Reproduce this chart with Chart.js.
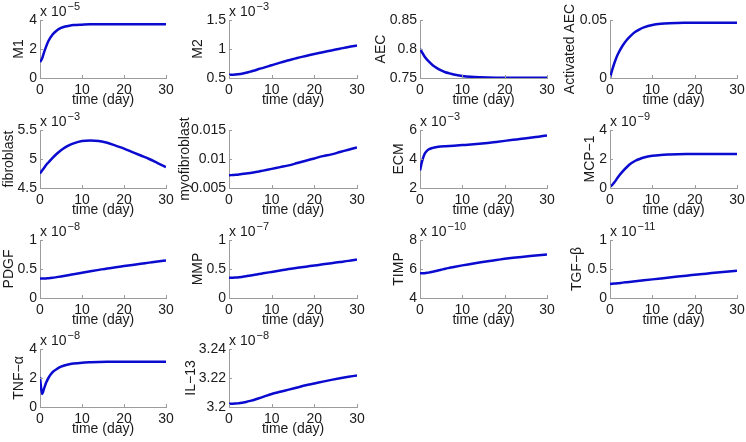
<!DOCTYPE html>
<html>
<head>
<meta charset="utf-8">
<script src="https://cdn.jsdelivr.net/npm/chart.js@4.4.0/dist/chart.umd.min.js"></script>
<style>
  html, body { margin: 0; padding: 0; background: #fff; overflow: hidden; }
  #fig { position: relative; width: 746px; height: 442px; }
  #fig canvas { position: absolute; }
</style>
</head>
<body>
<div id="fig"></div>
<script>
// time points (day) shared by every panel
const days = [0, 0.5, 1, 1.5, 2, 3, 4, 5, 6, 7, 8, 10, 12, 14, 16, 18, 20, 22, 24, 26, 28, 30];
const timeTicks = [0, 10, 20, 30];

// values, in the units shown on each panel (after the "x 10^n" factor)
const m1 = [1.1, 1.35, 1.8, 2.2, 2.55, 3.0, 3.28, 3.45, 3.55, 3.61, 3.65, 3.68, 3.7, 3.7, 3.7, 3.7, 3.7, 3.7, 3.7, 3.7, 3.7, 3.7];
const m2 = [0.555, 0.556, 0.558, 0.561, 0.565, 0.575, 0.59, 0.61, 0.63, 0.655, 0.675, 0.72, 0.765, 0.805, 0.845, 0.88, 0.915, 0.945, 0.975, 1.005, 1.035, 1.06];
const aec = [0.8, 0.794, 0.788, 0.783, 0.779, 0.772, 0.767, 0.763, 0.76, 0.758, 0.756, 0.7535, 0.752, 0.7512, 0.7508, 0.7506, 0.7505, 0.7505, 0.7505, 0.7505, 0.7505, 0.7505];
const activatedAec = [0, 0.0067, 0.0125, 0.0175, 0.0215, 0.028, 0.033, 0.0368, 0.0398, 0.042, 0.0436, 0.0457, 0.0468, 0.0473, 0.0475, 0.0476, 0.0477, 0.0477, 0.0477, 0.0477, 0.0477, 0.0477];
const fibroblast = [4.75, 4.8, 4.85, 4.9, 4.94, 5.02, 5.09, 5.15, 5.2, 5.24, 5.27, 5.31, 5.32, 5.31, 5.28, 5.23, 5.18, 5.12, 5.06, 5.0, 4.93, 4.86];
const myofibroblast = [0.0072, 0.00722, 0.00725, 0.00728, 0.0073, 0.0074, 0.0075, 0.0076, 0.0077, 0.00785, 0.008, 0.0083, 0.0086, 0.0089, 0.0093, 0.0097, 0.0101, 0.0105, 0.0108, 0.0112, 0.0116, 0.012];
const ecm = [3.2, 3.85, 4.3, 4.52, 4.65, 4.77, 4.83, 4.86, 4.88, 4.9, 4.92, 4.96, 5.0, 5.05, 5.11, 5.18, 5.25, 5.32, 5.39, 5.46, 5.54, 5.62];
const mcp1 = [0.1, 0.2, 0.38, 0.58, 0.8, 1.15, 1.45, 1.7, 1.88, 2.0, 2.1, 2.22, 2.28, 2.31, 2.33, 2.34, 2.34, 2.34, 2.34, 2.34, 2.34, 2.34];
const pdgf = [0.335, 0.335, 0.336, 0.338, 0.34, 0.348, 0.36, 0.372, 0.385, 0.398, 0.41, 0.435, 0.46, 0.485, 0.51, 0.53, 0.55, 0.57, 0.59, 0.61, 0.63, 0.648];
const mmp = [0.35, 0.35, 0.351, 0.353, 0.355, 0.364, 0.375, 0.388, 0.4, 0.413, 0.425, 0.45, 0.475, 0.5, 0.52, 0.54, 0.56, 0.58, 0.6, 0.62, 0.64, 0.665];
const timp = [5.7, 5.7, 5.71, 5.73, 5.75, 5.81, 5.88, 5.95, 6.02, 6.08, 6.14, 6.25, 6.35, 6.45, 6.54, 6.62, 6.7, 6.77, 6.83, 6.89, 6.95, 7.0];
const tgfb = [0.24, 0.244, 0.248, 0.252, 0.256, 0.265, 0.273, 0.281, 0.289, 0.297, 0.305, 0.321, 0.337, 0.353, 0.369, 0.385, 0.4, 0.415, 0.43, 0.444, 0.458, 0.472];
const tnfa = [2.05, 0.9, 1.3, 1.7, 2.0, 2.4, 2.62, 2.78, 2.88, 2.95, 3.0, 3.06, 3.09, 3.11, 3.12, 3.12, 3.12, 3.12, 3.12, 3.12, 3.12, 3.12];
const il13 = [3.2022, 3.2022, 3.2023, 3.2024, 3.2025, 3.203, 3.2035, 3.2042, 3.205, 3.206, 3.207, 3.209, 3.2105, 3.212, 3.2135, 3.215, 3.2162, 3.2175, 3.2187, 3.2198, 3.2208, 3.2218];

// y tick labels per panel
const ticks0to4 = [0, 2, 4];
const ticksM2 = [0.5, 1, 1.5];
const ticksAec = [0.75, 0.8, 0.85];
const ticksActAec = [0, 0.05];
const ticksFibro = [4.5, 5, 5.5];
const ticksMyofibro = [0.005, 0.01, 0.015];
const ticksEcm = [2, 4, 6];
const ticks0to1 = [0, 0.5, 1];
const ticksTimp = [4, 6, 8];
const ticksIl13 = [3.2, 3.22, 3.24];

const FONT = '"Liberation Sans", Arial, Helvetica, sans-serif';
const LINE = '#0b0bd0';
const AXIS = '#9c9c9c';
const TEXT = '#1a1a1a';

const colLeft = [40, 229, 420, 610];
const colWidth = [126, 128, 127, 127];
const rowTop = [20, 130, 240, 349];
const plotH = 58;
const padT = 20, padR = 9, xH = 29;

const panels = [
  { name: 'M1', values: m1, ticks: ticks0to4, exp: '\u22125', row: 0, col: 0, gap: 21 },
  { name: 'M2', values: m2, ticks: ticksM2, exp: '\u22123', row: 0, col: 1, gap: 31 },
  { name: 'AEC', values: aec, ticks: ticksAec, exp: null, row: 0, col: 2, gap: 39 },
  { name: 'Activated AEC', values: activatedAec, ticks: ticksActAec, exp: null, row: 0, col: 3, gap: 40 },
  { name: 'fibroblast', values: fibroblast, ticks: ticksFibro, exp: '\u22123', row: 1, col: 0, gap: 31 },
  { name: 'myofibroblast', values: myofibroblast, ticks: ticksMyofibro, exp: null, row: 1, col: 1, gap: 44 },
  { name: 'ECM', values: ecm, ticks: ticksEcm, exp: '\u22123', row: 1, col: 2, gap: 21 },
  { name: 'MCP\u22121', values: mcp1, ticks: ticks0to4, exp: '\u22129', row: 1, col: 3, gap: 20 },
  { name: 'PDGF', values: pdgf, ticks: ticks0to1, exp: '\u22128', row: 2, col: 0, gap: 31 },
  { name: 'MMP', values: mmp, ticks: ticks0to1, exp: '\u22127', row: 2, col: 1, gap: 31 },
  { name: 'TIMP', values: timp, ticks: ticksTimp, exp: '\u221210', row: 2, col: 2, gap: 21 },
  { name: 'TGF\u2212\u03b2', values: tgfb, ticks: ticks0to1, exp: '\u221211', row: 2, col: 3, gap: 33 },
  { name: 'TNF\u2212\u03b1', values: tnfa, ticks: ticks0to4, exp: '\u22128', row: 3, col: 0, gap: 21 },
  { name: 'IL\u221213', values: il13, ticks: ticksIl13, exp: '\u22128', row: 3, col: 1, gap: 38 }
];

// inward tick marks, rotated y label and the "x 10^n" factor, matlab style
const matlabAxes = {
  id: 'matlabAxes',
  afterDraw(chart, args, opts) {
    const { ctx, chartArea: a, scales: { x, y } } = chart;
    ctx.save();
    ctx.strokeStyle = AXIS;
    ctx.lineWidth = 1;
    ctx.beginPath();
    x.ticks.forEach(t => {
      const px = Math.round(x.getPixelForValue(t.value)) + 0.5;
      ctx.moveTo(px, a.bottom);
      ctx.lineTo(px, a.bottom - 3);
    });
    y.ticks.forEach(t => {
      const py = Math.round(y.getPixelForValue(t.value)) + 0.5;
      ctx.moveTo(a.left, py);
      ctx.lineTo(a.left + 3, py);
    });
    ctx.stroke();

    ctx.fillStyle = TEXT;
    ctx.font = '14px ' + FONT;
    ctx.save();
    ctx.translate(a.left - opts.gap, (a.top + a.bottom) / 2);
    ctx.rotate(-Math.PI / 2);
    ctx.textAlign = 'center';
    ctx.textBaseline = 'middle';
    ctx.fillText(opts.label, 0, 0);
    ctx.restore();

    if (opts.exp) {
      ctx.textBaseline = 'alphabetic';
      ctx.textAlign = 'left';
      ctx.font = '14px ' + FONT;
      const base = 'x 10';
      ctx.fillText(base, a.left, a.top - 4);
      const w = ctx.measureText(base).width;
      ctx.font = '11px ' + FONT;
      ctx.fillText(opts.exp, a.left + w + 1, a.top - 10);
    }
    ctx.restore();
  }
};

const fig = document.getElementById('fig');

panels.forEach(p => {
  const yW = p.gap + 10;
  const plotW = colWidth[p.col];
  const canvas = document.createElement('canvas');
  canvas.width = yW + plotW + padR;
  canvas.height = padT + plotH + xH;
  canvas.style.left = (colLeft[p.col] - yW) + 'px';
  canvas.style.top = (rowTop[p.row] - padT) + 'px';
  fig.appendChild(canvas);

  new Chart(canvas, {
    type: 'line',
    data: {
      datasets: [{
        data: days.map((d, i) => ({ x: d, y: p.values[i] })),
        borderColor: LINE,
        borderWidth: 2.5,
        pointRadius: 0,
        cubicInterpolationMode: 'monotone',
        fill: false
      }]
    },
    options: {
      responsive: false,
      animation: false,
      events: [],
      layout: { padding: { top: padT, right: padR, left: 0, bottom: 0 } },
      plugins: {
        legend: { display: false },
        tooltip: { enabled: false },
        matlabAxes: { exp: p.exp, label: p.name, gap: p.gap }
      },
      scales: {
        x: {
          type: 'linear',
          min: 0,
          max: 30,
          afterBuildTicks: s => { s.ticks = timeTicks.map(v => ({ value: v })); },
          ticks: {
            color: TEXT, font: { family: FONT, size: 14 }, padding: 4,
            maxRotation: 0, autoSkip: false, callback: v => String(v)
          },
          grid: { display: true, drawOnChartArea: false, drawTicks: false },
          border: { color: AXIS, width: 1 },
          title: {
            display: true, text: 'time (day)', color: TEXT,
            font: { family: FONT, size: 14, lineHeight: 1 }, padding: 0
          },
          afterFit: s => { s.height = xH; s.paddingLeft = 0; s.paddingRight = 0; }
        },
        y: {
          type: 'linear',
          min: p.ticks[0],
          max: p.ticks[p.ticks.length - 1],
          afterBuildTicks: s => { s.ticks = p.ticks.map(v => ({ value: v })); },
          ticks: {
            color: TEXT, font: { family: FONT, size: 14 }, padding: 3,
            autoSkip: false, callback: v => String(v)
          },
          grid: { display: true, drawOnChartArea: false, drawTicks: false },
          border: { color: AXIS, width: 1 },
          afterFit: s => { s.width = yW; s.paddingTop = 0; s.paddingBottom = 0; }
        }
      }
    },
    plugins: [matlabAxes]
  });
});
</script>
</body>
</html>
